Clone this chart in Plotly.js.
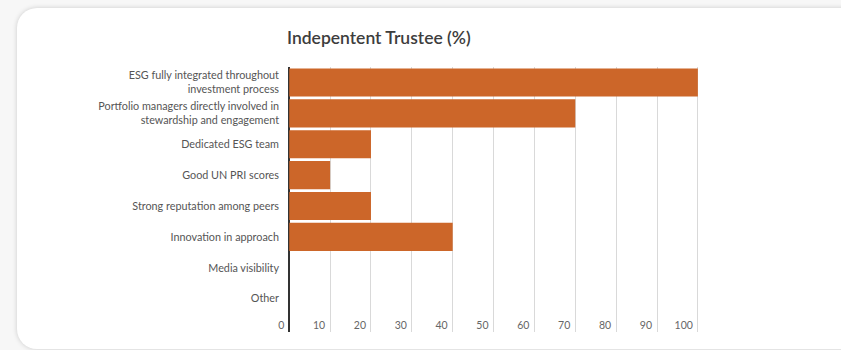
<!DOCTYPE html>
<html>
<head>
<meta charset="utf-8">
<script src="https://cdn.plot.ly/plotly-3.0.1.min.js"></script>
<style>
  html, body { margin: 0; padding: 0; width: 841px; height: 350px; overflow: hidden; background: #f7f7f7; }
  #card { position: absolute; left: 17px; top: 8px; width: 900px; height: 341px; background: #fff;
          border-radius: 20px; box-shadow: 0 0 5px rgba(0,0,0,0.18); }
  #chart { position: absolute; left: 0; top: 0; width: 841px; height: 350px; }
</style>
</head>
<body>
<div id="card"></div>
<div id="chart"></div>
<script>
const categories = [
  "ESG fully integrated throughout<br>investment process",
  "Portfolio managers directly involved in<br>stewardship and engagement",
  "Dedicated ESG team",
  "Good UN PRI scores",
  "Strong reputation among peers",
  "Innovation in approach",
  "Media visibility",
  "Other"
];
const values = [100, 70, 20, 10, 20, 40, 0, 0];
const xTickValues = [0, 10, 20, 30, 40, 50, 60, 70, 80, 90, 100];
const chartTitle = "Indepentent Trustee (%)";

const FONT = "Lato, 'Open Sans', sans-serif";

// pixel geometry of the plot area
const W = 841, H = 350;
const xMin = -3, xMax = 101.5;
const zeroPx = 289, hundredPx = 698;
const pxPerUnit = (hundredPx - zeroPx) / 100;
const plotLeft = zeroPx + xMin * pxPerUnit;
const plotRight = zeroPx + xMax * pxPerUnit;

const trace = {
  type: "bar",
  orientation: "h",
  x: values,
  y: categories.map((c, i) => i),
  marker: { color: "#cc6629", line: { width: 0 } },
  hoverinfo: "x+y"
};

const layout = {
  width: W,
  height: H,
  paper_bgcolor: "rgba(0,0,0,0)",
  plot_bgcolor: "rgba(0,0,0,0)",
  margin: { l: plotLeft, r: W - plotRight, t: 67, b: 18, pad: 0 },
  showlegend: false,
  bargap: 0.09,
  title: {
    text: chartTitle,
    font: { family: FONT, size: 17.5, color: "#3d3d3d", weight: 600 },
    x: 287 / W, xref: "container", xanchor: "left",
    y: 1 - 38 / H, yref: "container", yanchor: "middle",
    pad: { l: 0, r: 0, t: 0, b: 0 }
  },
  xaxis: {
    range: [xMin, xMax],
    tickvals: xTickValues,
    ticktext: xTickValues.map(String),
    ticklabelposition: "inside left",
    ticklabelstandoff: -5,
    ticklabelshift: -5,
    showgrid: true,
    gridcolor: "#d9d9d9",
    gridwidth: 1,
    zeroline: true,
    zerolinecolor: "#333",
    zerolinewidth: 2,
    showline: false,
    ticks: "",
    tickfont: { family: FONT, size: 10.5, color: "#666" },
    fixedrange: true
  },
  yaxis: {
    type: "linear",
    range: [8.08, -0.5],
    tickvals: categories.map((c, i) => i),
    ticktext: categories,
    showgrid: false,
    zeroline: false,
    showline: false,
    ticks: "",
    ticklabelstandoff: -3,
    tickfont: { family: FONT, size: 10.8, color: "#555" },
    fixedrange: true
  }
};

Plotly.newPlot("chart", [trace], layout, { displayModeBar: false, staticPlot: true });
</script>
</body>
</html>
